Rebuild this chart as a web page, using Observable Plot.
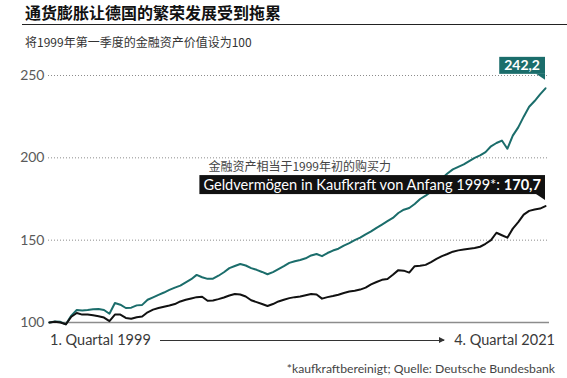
<!DOCTYPE html>
<html><head><meta charset="utf-8">
<script src="https://cdn.jsdelivr.net/npm/d3@7"></script>
<script src="https://cdn.jsdelivr.net/npm/@observablehq/plot@0.6"></script>
<style>
body{margin:0;background:#fff;}
#wrap{position:relative;width:567px;height:378px;overflow:hidden;font-family:Lato,"Noto Sans CJK SC",sans-serif;}
#title{position:absolute;left:25px;top:2px;font:bold 16px/20px "Noto Sans CJK SC";color:#111;white-space:nowrap;}
#rule{position:absolute;left:22px;right:0;top:24px;border-top:1.5px solid #222;}
#sub{position:absolute;left:25px;top:34px;font:12px/16px "Noto Sans CJK SC";color:#333;white-space:nowrap;}
#plot{position:absolute;left:0;top:55px;}
#xrow{position:absolute;left:50px;width:505px;top:332px;height:16px;display:flex;align-items:center;font:14.5px/16px Lato,sans-serif;color:#3a3a3a;white-space:nowrap;}
#xrow .ln{flex:1;height:1px;background:#333;margin:0 10px 0 9px;position:relative;}
#xrow .ln::after{content:"";position:absolute;right:-1px;top:-3px;border-left:6px solid #333;border-top:3.5px solid transparent;border-bottom:3.5px solid transparent;}
#foot{position:absolute;right:12px;top:361px;font:12.2px/16px Lato,sans-serif;color:#444;white-space:nowrap;}
</style></head>
<body>
<div id="wrap">
  <div id="title">通货膨胀让德国的繁荣发展受到拖累</div>
  <div id="rule"></div>
  <div id="sub">将1999年第一季度的金融资产价值设为100</div>
  <div id="plot"></div>
  <div id="xrow"><span id="xStart"></span><span class="ln"></span><span id="xEnd"></span></div>
  <div id="foot">*kaufkraftbereinigt; Quelle: Deutsche Bundesbank</div>
</div>
<script>
// quarters 1999Q1 .. 2021Q4
const quarters = [];
for (let y = 1999; y <= 2021; y++) for (let q = 1; q <= 4; q++) quarters.push(`${y}Q${q}`);

// nominal financial assets (index 1999Q1 = 100)
const nominal = [
  100, 100.6, 100.4, 98.9, 104.2, 107.6, 107.3, 107.6, 108, 108.2,
  107.6, 105.3, 111.8, 110.8, 108.8, 109, 110.4, 110.7, 113.8, 115.3,
  116.8, 118.2, 119.8, 121.2, 122.4, 124.4, 126.3, 128.9, 127.5, 126.5,
  126.6, 128.4, 130.5, 133, 134.3, 135.5, 134.6, 133, 132, 130.7,
  129.3, 130.6, 132.4, 134.2, 136.2, 137.2, 138, 139, 140.7, 141.6,
  140.3, 142.2, 143.7, 144.8, 146.7, 148.2, 150, 151.5, 153.5, 155.3,
  157.5, 159.5, 161.5, 163.5, 166.5, 168.5, 169.5, 172, 175, 177,
  179.5, 183, 187.5, 190.5, 193, 194.5, 196, 198, 200, 201.5,
  203.5, 207, 209, 210.5, 205.5, 213.5, 218.5, 225, 231, 234.5,
  238.5, 242.2
];
// purchasing-power adjusted
const real = [
  100, 100.4, 100, 98.9, 103.5, 105.8, 104.8, 104.8, 104.4, 103.8,
  103, 100.8, 104.8, 104.8, 102.8, 102.3, 103.2, 103.6, 106.2, 107.8,
  108.8, 109.6, 110.3, 111.2, 112.8, 113.8, 114.6, 115.4, 115.6, 113.2,
  113.4, 114.2, 115.2, 116.4, 117.3, 117, 115.8, 113.5, 112.4, 111.2,
  110, 111.2, 112.8, 113.8, 114.8, 115.4, 115.8, 116.6, 117.3, 117,
  114.5, 115.4, 116.1, 116.9, 117.9, 118.8, 119.3, 120, 121.2, 123.2,
  124.6, 125.9, 126.4, 129, 131.8, 131.5, 130.3, 134.2, 134.5, 135,
  136.7, 138.6, 140.3, 141.6, 143, 143.8, 144.3, 144.8, 145.2, 146,
  147.8, 150, 154.5, 153, 151.5, 157, 161, 165.5, 167.8, 168.6,
  169.2, 170.7
];
const yTicks = [100, 150, 200, 250];
const xLabels = ["1. Quartal 1999", "4. Quartal 2021"];
const endLabelNominal = "242,2";
const endLabelReal = ["Geldvermögen in Kaufkraft von Anfang 1999*: ", "170,7"];
const realNoteCN = "金融资产相当于1999年初的购买力";

const data = quarters.map((q, i) => ({q, nominal: nominal[i], real: real[i]}));
const TEAL = "#1b6d6b";

const chart = Plot.plot({
  width: 567, height: 278,
  marginLeft: 48, marginRight: 18, marginTop: 20, marginBottom: 11,
  style: {fontFamily: "Lato, sans-serif", fontSize: "14px", color: "#5a5a5a", background: "transparent"},
  x: {type: "point", domain: quarters, padding: 0, insetLeft: 1, insetRight: 4, axis: null},
  y: {domain: [100, 250], axis: null},
  marks: [
    Plot.ruleY(yTicks.slice(1), {stroke: "#8c8c8c", strokeWidth: 1, strokeDasharray: "1,2"}),
    Plot.ruleY([100], {stroke: "#8c8c8c", strokeWidth: 1.3}),
    Plot.axisY({ticks: yTicks, tickSize: 0, tickPadding: 4, fontSize: 14, label: null, tickFormat: d => String(d)}),
    Plot.line(data, {x: "q", y: "nominal", stroke: TEAL, strokeWidth: 2}),
    Plot.line(data, {x: "q", y: "real", stroke: "#111", strokeWidth: 2})
  ]
});
document.getElementById("plot").appendChild(chart);
document.getElementById("xStart").textContent = xLabels[0];
document.getElementById("xEnd").textContent = xLabels[1];

// end-of-line labels, positioned with the plot's scales
const sx = chart.scale("x"), sy = chart.scale("y");
const last = data[data.length - 1];
const xe = sx.apply(last.q);
const yN = sy.apply(last.nominal), yR = sy.apply(last.real);
const svg = d3.select(chart);
const g = svg.append("g").attr("text-anchor", "start");

// teal box
{
  const bottom = yN - 14, h = 17, pad = 5;
  const t = g.append("text").attr("font-family", "Lato, sans-serif").attr("font-weight", 700)
    .attr("font-size", 14).attr("fill", "#fff").attr("text-anchor", "end")
    .attr("x", xe - pad).attr("y", bottom - h / 2).attr("dy", "0.36em").text(endLabelNominal);
  const w = t.node().getComputedTextLength() + 2 * pad;
  g.insert("rect", "text").attr("x", xe - w).attr("y", bottom - h).attr("width", w).attr("height", h).attr("fill", TEAL);
  g.insert("path", "text").attr("d", `M${xe - 9},${bottom}L${xe},${bottom}L${xe},${bottom + 6}Z`).attr("fill", TEAL);
}
// black box
{
  const bottom = yR - 11.5, h = 19, pad = 4;
  const t = g.append("text").attr("font-family", "Lato, sans-serif").attr("font-size", 14.6)
    .attr("fill", "#fff").attr("text-anchor", "end")
    .attr("x", xe - pad).attr("y", bottom - h / 2).attr("dy", "0.36em");
  t.append("tspan").text(endLabelReal[0]);
  t.append("tspan").attr("font-weight", 700).text(endLabelReal[1]);
  const w = t.node().getComputedTextLength() + 2 * pad;
  g.insert("rect", "text").attr("x", xe - w).attr("y", bottom - h).attr("width", w).attr("height", h).attr("fill", "#111");
  g.insert("path", "text").attr("d", `M${xe - 9},${bottom}L${xe},${bottom}L${xe},${bottom + 6}Z`).attr("fill", "#111");
  g.append("text").attr("font-family", "Noto Sans CJK SC, sans-serif").attr("font-size", 12)
    .attr("text-anchor", "start")
    .attr("fill", "#444").attr("x", xe - w + 9).attr("y", bottom - h - 8.5).attr("dy", "0.36em").text(realNoteCN);
}
</script>
</body></html>
